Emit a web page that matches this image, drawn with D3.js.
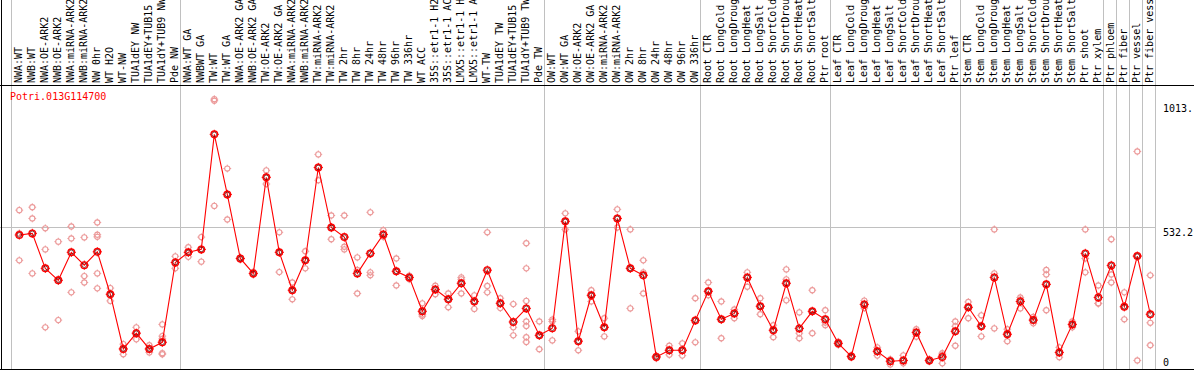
<!DOCTYPE html>
<html><head><meta charset="utf-8">
<script src="https://cdn.jsdelivr.net/npm/d3@7"></script>
<style>
html,body{margin:0;padding:0;background:#fff;}
svg{display:block;}
text{font-family:"DejaVu Sans Mono",monospace;font-size:10px;}
</style></head>
<body><svg id="c" width="1194" height="370"></svg>
<script>
const geneName = "Potri.013G114700";

const categories = [
"NWA:WT","NWB:WT","NWA:OE-ARK2","NWB:OE-ARK2","NWA:miRNA-ARK2","NWB:miRNA-ARK2","NW 0hr","WT H2O","WT-NW","TUA1dEY NW",
"TUA1dEY+TUB15 NW","TUA1dY+TUB9 NW","Pde NW","NWA:WT GA","NWBWT GA","TW:WT","TW:WT GA","NWA:OE-ARK2 GA","NWB:OE-ARK2 GA","TW:OE-ARK2",
"TW:OE-ARK2 GA","NWA:miRNA-ARK2","NWB:miRNA-ARK2","TW:miRNA-ARK2","TW:miRNA-ARK2","TW 2hr","TW 8hr","TW 24hr","TW 48hr","TW 96hr",
"TW 336hr","WT ACC","35S::etr1-1 H2O","35S::etr1-1 ACC","LMX5::etr1-1 H2O","LMX5::etr1-1 ACC","WT-TW","TUA1dEY TW","TUA1dEY+TUB15 TW","TUA1dY+TUB9 TW",
"Pde TW","OW:WT","OW:WT GA","OW:OE-ARK2","OW:OE-ARK2 GA","OW:miRNA-ARK2","OW:miRNA-ARK2","OW 2hr","OW 8hr","OW 24hr",
"OW 48hr","OW 96hr","OW 336hr","Root CTR","Root LongCold","Root LongDrought","Root LongHeat","Root LongSalt","Root ShortCold","Root ShortDrought",
"Root ShortHeat","Root ShortSalt","Ptr root","Leaf CTR","Leaf LongCold","Leaf LongDrought","Leaf LongHeat","Leaf LongSalt","Leaf ShortCold","Leaf ShortDrought",
"Leaf ShortHeat","Leaf ShortSalt","Ptr leaf","Stem CTR","Stem LongCold","Stem LongDrought","Stem LongHeat","Stem LongSalt","Stem ShortCold","Stem ShortDrought",
"Stem ShortHeat","Stem ShortSalt","Ptr shoot","Ptr xylem","Ptr phloem","Ptr fiber","Ptr vessel","Ptr fiber vessel"
];

const meanValues = [
504,510,379,334,439,391,441,282,77,136,
77,102,401,439,450,881,656,416,360,720,
439,297,409,757,532,496,360,435,506,368,
345,218,300,263,323,255,372,248,178,229,
128,155,555,106,278,158,566,379,353,47,
72,72,184,293,188,210,345,237,147,323,
154,218,188,98,49,244,68,31,34,139,
34,47,143,233,162,345,132,255,185,319,
64,169,435,270,390,235,425,207
];

const replicateValues = [
[597,510,409],[608,566,360],[529,450,158],[479,338,185],[536,491,289],[495,350,326],[551,505,497,360,304],[305,282,257],[95,77,57],[158,136,113],
[91,77,64],[169,125,115,61,57],[424,401,379],[458,439,422],[496,450,404],[1013,1007,613],[753,656,562],[420,416,412],[366,360,355],[746,720,695],
[514,439,365],[326,297,263],[443,409,379],[806,757,709],[577,532,488],[577,460,450],[420,373,285],[589,364,353],[522,506,497],[416,368,315],
[352,345,338],[248,206,200],[314,300,282],[285,263,233],[345,338,285],[278,255,227],[514,313,289],[267,248,230],[245,158,128],[473,379,257,180,163,121,103],
[180,128,76],[187,180,109],[585,555,525],[143,106,72],[297,278,255],[192,158,124],[600,566,532],[525,379,229],[409,364,285],[52,47,42],
[89,72,55],[98,72,52],[267,184,102],[326,293,278],[255,188,117],[225,210,192],[364,345,310],[267,237,207],[166,147,121],[375,338,259],
[214,136,117],[297,218,136],[222,176,166],[104,98,92],[53,49,45],[258,244,230],[83,68,52],[38,36,19],[53,34,23],[151,139,123],
[38,34,30],[61,55,23],[180,162,89],[253,233,192],[203,162,124],[525,360,154],[151,132,106],[270,262,229],[197,185,173],[373,356,222],
[83,64,46],[180,169,158],[525,416,364],[315,248,247],[488,356,326],[289,235,188],[817,424,34],[353,175,91]
];

// categories that start a new group (a grey separator line is drawn before them)
const groupStarts = ["NWA:WT","NWA:WT GA","OW:WT","Root CTR","Leaf CTR","Stem CTR","Ptr phloem","Ptr fiber","Ptr vessel","Ptr fiber vessel"];
const tickValues = [0, 532.2, 1013.5];
const tickLabels = ["0", "532.2", "1013."];
const maxLabelChars = 14;

const svg = d3.select("#c");
const W = 1194, H = 370;
const headerBottom = 85, plotBottom = 369.5;
const idx = d3.range(categories.length);
const x = d3.scalePoint().domain(idx).range([19.3, 1150.3]);
const step = x.step();
const y = d3.scaleLinear().domain([0, 1013.5]).range([plotBottom, 99]);
const grey = "#c0c0c0";

// vertical group separators
const sepIdx = groupStarts.map(g => categories.indexOf(g)).filter(i => i >= 0);
sepIdx.push(categories.length);
svg.append("g").selectAll("line").data(sepIdx).join("line")
  .attr("x1", i => Math.round(19.3 + i * step - 8) + 0.5)
  .attr("x2", i => Math.round(19.3 + i * step - 8) + 0.5)
  .attr("y1", 0).attr("y2", plotBottom)
  .attr("stroke", grey).attr("stroke-width", 1).attr("shape-rendering","crispEdges");

// horizontal grid at middle tick
const xEnd = Math.round(19.3 + categories.length * step - 8) + 0.5;
svg.append("g").selectAll("line").data(tickValues.filter(v => v > 0 && v < 1000)).join("line")
  .attr("x1", 0).attr("x2", xEnd)
  .attr("y1", d => Math.round(y(d)) + 0.5).attr("y2", d => Math.round(y(d)) + 0.5)
  .attr("stroke", grey).attr("shape-rendering","crispEdges");

// frame lines
svg.append("line").attr("x1",0).attr("x2",W).attr("y1",headerBottom+0.5).attr("y2",headerBottom+0.5).attr("stroke","#000").attr("shape-rendering","crispEdges");
svg.append("line").attr("x1",0).attr("x2",W).attr("y1",369.5).attr("y2",369.5).attr("stroke","#000").attr("shape-rendering","crispEdges");
svg.append("line").attr("x1",1.5).attr("x2",1.5).attr("y1",0).attr("y2",H).attr("stroke","#000").attr("shape-rendering","crispEdges");

// rotated category labels (header only has room for 14 characters)
svg.append("g").selectAll("text").data(idx).join("text")
  .attr("transform", i => `translate(${x(i) + 2.8},${headerBottom - 2}) rotate(-90)`)
  .attr("text-anchor", "start")
  .attr("fill", "#000")
  .text(i => categories[i].slice(0, maxLabelChars).trimEnd());

// right value axis
const axis = d3.axisRight(y).tickValues(tickValues).tickSize(0).tickFormat((d, i) => tickLabels[i]);
const ag = svg.append("g").attr("transform", "translate(1163,0)").call(axis);
ag.select(".domain").remove();
ag.selectAll(".tick text")
  .attr("x", 0).attr("dy", null)
  .attr("y", 0)
  .attr("transform", d => `translate(0,${Math.min(Math.max(8.5, 111 - y(d)), 365 - y(d))})`)
  .attr("fill", "#000")
  .style("font-family", '"DejaVu Sans Mono",monospace').style("font-size", "10px")
  .attr("text-anchor", "start");

// gene name
svg.append("text").attr("x", 10).attr("y", 100).attr("fill", "#ff0000").text(geneName);

function marker(g, cx, cy, r, color, sw) {
  g.append("circle").attr("cx", cx).attr("cy", cy).attr("r", r)
    .attr("fill", "none").attr("stroke", color).attr("stroke-width", sw);
  const t = r + 1.3;
  g.append("path").attr("d", `M${cx},${cy - t}V${cy - r + 0.3}M${cx},${cy + r - 0.3}V${cy + t}M${cx - t},${cy}H${cx - r + 0.3}M${cx + r - 0.3},${cy}H${cx + t}`)
    .attr("stroke", color).attr("stroke-width", 1);
}

// replicates
const rg = svg.append("g");
replicateValues.forEach((vals, i) => vals.forEach(v => marker(rg, x(i), y(v), 2.6, "#ec9a9a", 1.1)));

// mean line
svg.append("path").datum(idx)
  .attr("d", d3.line().x(i => x(i)).y(i => y(meanValues[i])))
  .attr("fill", "none").attr("stroke", "#ff0000").attr("stroke-width", 1.1);

// mean markers
const mg = svg.append("g");
idx.forEach(i => {
  marker(mg, x(i), y(meanValues[i]), 3.3, "#ff0000", 1.4);
  mg.append("circle").attr("cx", x(i)).attr("cy", y(meanValues[i])).attr("r", 2.3)
    .attr("fill", "none").attr("stroke", "#600000").attr("stroke-width", 0.7);
});
</script>
</body></html>
